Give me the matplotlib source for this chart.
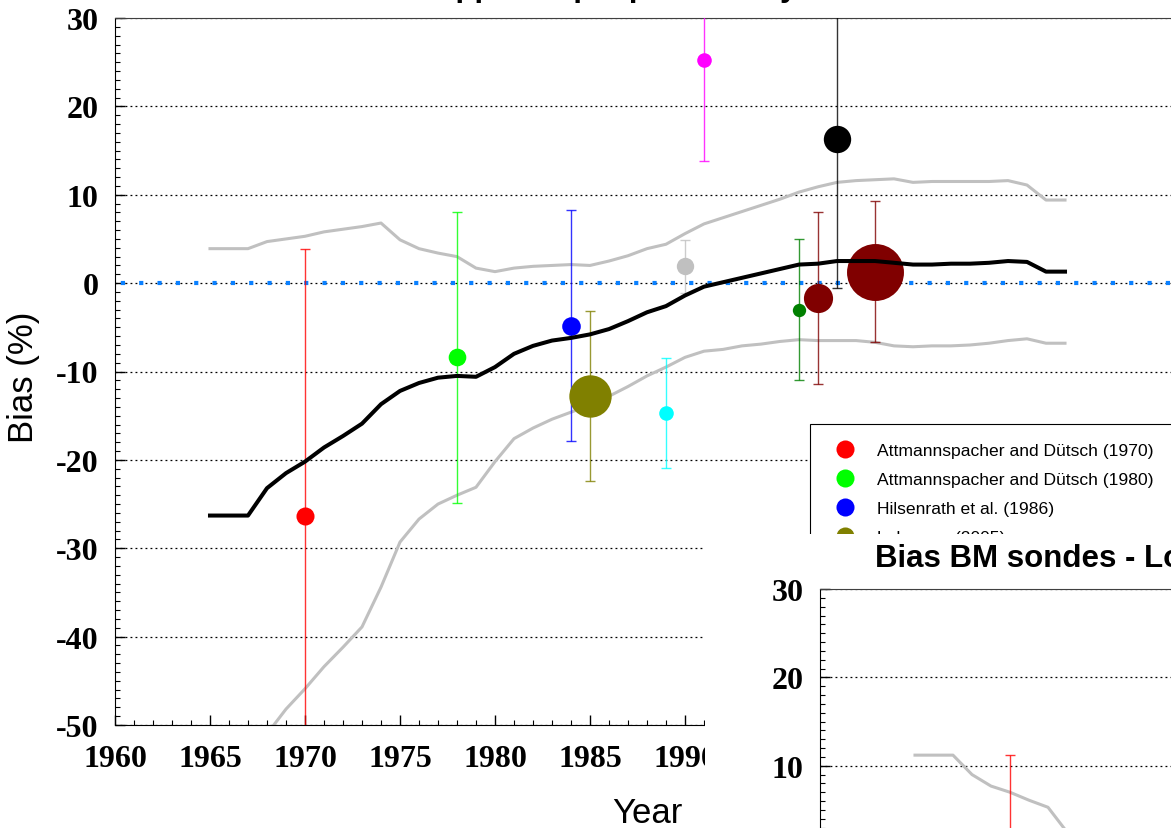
import matplotlib.pyplot as plt
from matplotlib.lines import Line2D
from matplotlib.patches import Rectangle
from matplotlib.ticker import MultipleLocator

W, H = 1171, 829

# Yearly mean bias of the BM sondes and the +/- spread band (upper troposphere)
years = list(range(1965, 2011))
bias_mean = [-26.3, -26.3, -26.3, -23.2, -21.5, -20.2, -18.6, -17.3, -15.9, -13.7,
             -12.2, -11.3, -10.7, -10.5, -10.6, -9.5, -8.0, -7.1, -6.5, -6.2,
             -5.8, -5.2, -4.3, -3.3, -2.6, -1.4, -0.4, 0.1, 0.6, 1.1,
             1.6, 2.1, 2.2, 2.5, 2.5, 2.5, 2.3, 2.1, 2.1, 2.2,
             2.2, 2.3, 2.5, 2.4, 1.3, 1.3]
bias_upper = [3.9, 3.9, 3.9, 4.7, 5.0, 5.3, 5.8, 6.1, 6.4, 6.8,
              4.9, 3.9, 3.4, 3.0, 1.7, 1.3, 1.7, 1.9, 2.0, 2.1,
              2.0, 2.5, 3.1, 3.9, 4.4, 5.6, 6.7, 7.4, 8.1, 8.8,
              9.5, 10.3, 10.9, 11.4, 11.6, 11.7, 11.8, 11.4, 11.5, 11.5,
              11.5, 11.5, 11.6, 11.1, 9.4, 9.4]
bias_lower = [-56.5, -56.5, -56.5, -51.0, -48.2, -45.9, -43.4, -41.2, -38.9, -34.4,
              -29.3, -26.7, -25.0, -24.0, -23.1, -20.2, -17.6, -16.4, -15.4, -14.6,
              -13.8, -12.8, -11.7, -10.5, -9.5, -8.4, -7.7, -7.5, -7.1, -6.9,
              -6.6, -6.4, -6.5, -6.5, -6.5, -6.7, -7.1, -7.2, -7.1, -7.1,
              -7.0, -6.8, -6.5, -6.3, -6.8, -6.8]

# Comparison campaigns
study_years = [1970, 1978, 1984, 1985, 1989, 1990, 1991, 1996, 1997, 1998, 2000]
study_bias = [-26.3, -8.4, -4.8, -12.8, -14.7, 1.9, 25.3, -3.0, -1.7, 16.3, 1.3]
study_err = [30.2, 16.5, 13.1, 9.6, 6.2, 3.0, 11.5, 8.0, 9.7, 16.9, 8.0]
study_colors = ["red", "lime", "blue", "olive", "cyan", "silver", "magenta",
                "green", "maroon", "black", "maroon"]
study_sizes = [13, 12.7, 13.4, 30.5, 10.5, 12.5, 10.5, 9.6, 21, 19.7, 41]
legend_labels = ["Attmannspacher and Dütsch (1970)",
                 "Attmannspacher and Dütsch (1980)",
                 "Hilsenrath et al. (1986)",
                 "Lehmann (2005)"]

# Lower stratosphere panel (only its top part is visible)
ls_years = list(range(1965, 1974))
ls_upper = [11.2, 11.2, 11.2, 9.0, 7.7, 7.0, 6.1, 5.3, 2.5]
ls_study_years = [1970]
ls_study_bias = [-10.0]
ls_study_err = [21.2]

plt.rcParams["font.family"] = "Liberation Serif"
plt.rcParams["font.weight"] = "bold"
plt.rcParams["axes.unicode_minus"] = False

fig = plt.figure(figsize=(W / 100, H / 100), dpi=100)


def style_axes(ax):
    ax.set_xlim(1960, 1960 + 1065 / 19)
    ax.set_ylim(-50, 30)
    ax.xaxis.set_major_locator(MultipleLocator(5))
    ax.xaxis.set_minor_locator(MultipleLocator(1))
    ax.yaxis.set_major_locator(MultipleLocator(10))
    ax.yaxis.set_minor_locator(MultipleLocator(1))
    ax.tick_params(which="both", direction="in", top=False, right=False, labelsize=23)
    ax.tick_params(which="major", length=7, width=1)
    ax.tick_params(which="minor", length=3.5, width=0.8)
    ax.tick_params(axis="y", pad=12)
    ax.tick_params(axis="x", pad=14)
    ax.yaxis.grid(True, color="black", linestyle=(0, (1.5, 2.5)), linewidth=0.9)
    ax.set_axisbelow(True)
    ax.spines["top"].set_color("#404040")
    ax.spines["right"].set_visible(False)


# Main panel
ax = fig.add_axes([115 / W, 1 - 726 / H, 1065 / W, 707 / H], zorder=0)
style_axes(ax)
ax.axhline(0, color="#0a80ff", linewidth=3, linestyle=(3, (1, 3.4)),
           solid_capstyle="butt", zorder=1.5)

ax.plot(years, bias_upper, color="#c0c0c0", linewidth=2.2, zorder=2)
ax.plot(years, bias_lower, color="#c0c0c0", linewidth=2.2, zorder=2)

for x, y, e, c, s in zip(study_years, study_bias, study_err, study_colors, study_sizes):
    ax.errorbar(x, y, yerr=e, fmt="none", ecolor=c, alpha=0.8, elinewidth=1.0,
                capsize=3.3, capthick=1.0, zorder=3)
    ax.plot(x, y, "o", color=c, markersize=s, markeredgewidth=0, zorder=4)

ax.plot(years, bias_mean, color="black", linewidth=2.9, zorder=5)

handles = [Line2D([], [], marker="o", linestyle="none", color=c, markersize=13,
                  markeredgewidth=0) for c in study_colors[:len(legend_labels)]]
leg = ax.legend(handles, legend_labels, loc="upper left",
                bbox_to_anchor=((810 - 115) / 1065, (726 - 425) / 707),
                borderaxespad=0, borderpad=1.05, handlelength=1.95,
                handletextpad=0.82, labelspacing=0.8, fancybox=False,
                framealpha=1, edgecolor="black",
                prop={"family": "Liberation Sans", "weight": "normal", "size": 12.6})
leg.get_frame().set_linewidth(0.8)

fig.text(164 / W, 1 + 3.5 / H, "Bias BM sondes - Upper troposphere - Payerne",
         ha="left", va="baseline", fontsize=22.5, family="Liberation Sans",
         weight="bold")
fig.text(647 / W, 1 - 823 / H, "Year", ha="center", va="baseline", fontsize=25,
         family="Liberation Sans", weight="normal")
fig.text(23 / W, 1 - 377 / H, "Bias (%)", ha="center", va="center", rotation=90,
         fontsize=25, family="Liberation Sans", weight="normal")

# White backing of the second panel, laid over the first one
fig.add_artist(Rectangle((705 / W, 0), 1, 1 - 535 / H, transform=fig.transFigure,
                         facecolor="white", edgecolor="none", zorder=1))

# Lower stratosphere panel
ax2 = fig.add_axes([820 / W, 1 - 1297 / H, 1065 / W, 707 / H], zorder=2)
style_axes(ax2)
ax2.plot(ls_years, ls_upper, color="#c0c0c0", linewidth=2.2, zorder=2)
ax2.errorbar(ls_study_years, ls_study_bias, yerr=ls_study_err, fmt="none",
             ecolor="red", alpha=0.8, elinewidth=1.0, capsize=3.3, capthick=1.0,
             zorder=3)
fig.text(875 / W, 1 - 567 / H, "Bias BM sondes - Lower stratosphere - Payerne",
         ha="left", va="baseline", fontsize=22.5, family="Liberation Sans",
         weight="bold", zorder=3)

fig.savefig("out.png", dpi=100)
